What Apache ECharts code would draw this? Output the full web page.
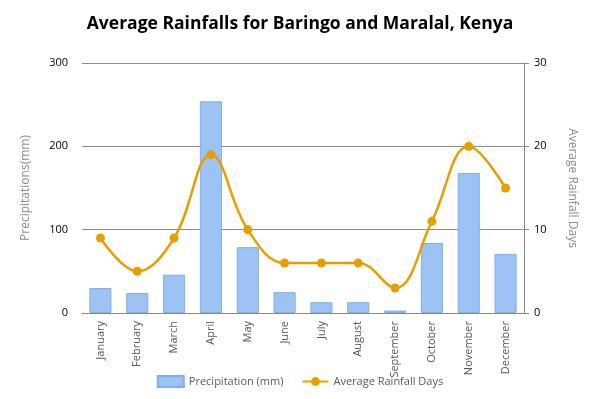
<!DOCTYPE html>
<html>
<head>
<meta charset="utf-8">
<script src="https://cdn.jsdelivr.net/npm/echarts@6/dist/echarts.min.js"></script>
<style>
  html, body { margin: 0; padding: 0; background: #fff; }
  #chart { width: 600px; height: 399px; }
</style>
</head>
<body>
<div id="chart"></div>
<script>
  const months = ['January', 'February', 'March', 'April', 'May', 'June',
    'July', 'August', 'September', 'October', 'November', 'December'];
  const precipitation = [30, 24, 46, 254, 79, 25, 13, 13, 3, 84, 168, 71];
  const rainfallDays = [9, 5, 9, 19, 10, 6, 6, 6, 3, 11, 20, 15];

  const myChart = echarts.init(document.getElementById('chart'));

  const option = {
    animation: false,
    title: {
      text: 'Average Rainfalls for Baringo and Maralal, Kenya',
      left: 'center',
      top: 10,
      textStyle: { fontFamily: 'Open Sans', fontSize: 17.5, fontWeight: 'bold', color: '#000' }
    },
    legend: {
      bottom: 6,
      itemGap: 18,
      itemWidth: 26,
      itemHeight: 11,
      textStyle: { fontFamily: 'Open Sans', fontSize: 11, color: '#595959' },
      data: [
        { name: 'Precipitation (mm)', icon: 'rect' },
        { name: 'Average Rainfall Days' }
      ]
    },
    grid: { left: 82, right: 76, top: 63, bottom: 86 },
    xAxis: {
      type: 'category',
      data: months,
      axisLine: { lineStyle: { color: '#888' } },
      axisTick: { lineStyle: { color: '#888' } },
      axisLabel: { rotate: 90, fontFamily: 'Open Sans', fontSize: 11, color: '#595959' }
    },
    yAxis: [
      {
        type: 'value',
        min: 0, max: 300, interval: 100,
        name: 'Precipitations(mm)',
        nameLocation: 'middle',
        nameGap: 50,
        nameTextStyle: { fontFamily: 'Open Sans', fontSize: 12, color: '#8c8c8c' },
        axisLine: { show: false },
        axisLabel: { fontFamily: 'Open Sans', fontSize: 11, color: '#000', margin: 14 },
        splitLine: { lineStyle: { color: '#8c8c8c' } }
      },
      {
        type: 'value',
        min: 0, max: 30, interval: 10,
        name: 'Average Rainfall Days',
        nameLocation: 'middle',
        nameGap: 42,
        nameRotate: -90,
        nameTextStyle: { fontFamily: 'Open Sans', fontSize: 12, color: '#8c8c8c' },
        axisLine: { show: true, lineStyle: { color: '#888' } },
        axisTick: { show: true, lineStyle: { color: '#888' } },
        axisLabel: { fontFamily: 'Open Sans', fontSize: 11, color: '#000', margin: 10 },
        splitLine: { show: false }
      }
    ],
    series: [
      {
        name: 'Precipitation (mm)',
        type: 'bar',
        barWidth: '60%',
        data: precipitation,
        itemStyle: { color: '#9dc3f4', borderColor: '#7eb0ee', borderWidth: 1 }
      },
      {
        name: 'Average Rainfall Days',
        type: 'line',
        yAxisIndex: 1,
        smooth: 0.4,
        symbol: 'circle',
        symbolSize: 9,
        data: rainfallDays,
        lineStyle: { color: '#e5a000', width: 2.5 },
        itemStyle: { color: '#e5a000' }
      }
    ]
  };

  myChart.setOption(option);
</script>
</body>
</html>
